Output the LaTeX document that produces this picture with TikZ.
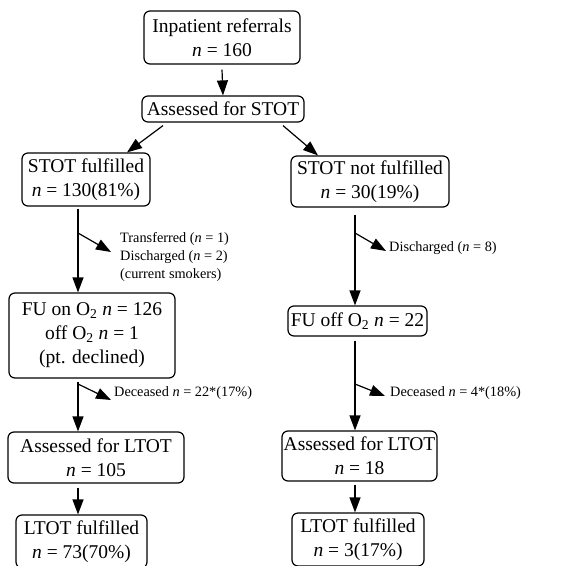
\documentclass[tikz,border=0pt]{standalone}
\usepackage{fontspec}
\setmainfont{Liberation Serif}
\usetikzlibrary{arrows.meta}
\begin{document}
\begin{tikzpicture}[x=1pt,y=-1pt,
  box/.style={draw, rounded corners=6pt, line width=1.2pt, align=center,
    font=\fontsize{19.5}{24}\selectfont, inner sep=0pt},
  arr/.style={-{Triangle[length=15pt,width=11pt]}, line width=1.2pt},
  lab/.style={font=\fontsize{14.3}{18}\selectfont, align=left, anchor=west, inner sep=0pt}]
\useasboundingbox (0,0) rectangle (578,565);
\begin{scope}
\clip (0,0) rectangle (578,565);
\node[box, minimum width=156pt, minimum height=53pt] (top) at (222,37.5) {Inpatient referrals\\\textit{n} = 160};
\node[box, minimum width=162pt, minimum height=26pt] (aS) at (223,109) {Assessed for STOT};
\node[box, minimum width=128pt, minimum height=53pt] (sF) at (86,179.5) {STOT fulfilled\\\textit{n} = 130(81\%)};
\node[box, minimum width=158pt, minimum height=51pt] (sNF) at (370,181.5) {STOT not fulfilled\\\textit{n} = 30(19\%)};
\node[box, minimum width=166pt, minimum height=85pt] (fuL) at (92,335.5) {FU on O\textsubscript{2} \textit{n} = 126\\off O\textsubscript{2} \textit{n} = 1\\(pt. declined)};
\node[box, minimum width=139pt, minimum height=30pt] (fuR) at (357.5,321) {FU off O\textsubscript{2} \textit{n} = 22};
\node[box, minimum width=176pt, minimum height=51pt] (aLL) at (96,457.5) {Assessed for LTOT\\\textit{n} = 105};
\node[box, minimum width=155pt, minimum height=50pt] (aLR) at (359.5,456) {Assessed for LTOT\\\textit{n} = 18};
\node[box, minimum width=131pt, minimum height=53pt] (lFL) at (81.5,541.5) {LTOT fulfilled\\\textit{n} = 73(70\%)};
\node[box, minimum width=132pt, minimum height=53pt] (lFR) at (358,539.5) {LTOT fulfilled\\\textit{n} = 3(17\%)};
\end{scope}

\coordinate (xL) at (78,0);
\coordinate (xR) at (355,0);

\draw[arr] ([yshift=-5pt]top.south) -- (aS.north);
\draw[arr] ([xshift=-60pt,yshift=-3pt]aS.south) -- ([xshift=41pt]sF.north);
\draw[arr] ([xshift=60pt,yshift=-3pt]aS.south) -- ([xshift=-52pt]sNF.north);
\draw[arr] ([yshift=-2pt]sF.south -| xL) -- (fuL.north -| xL);
\draw[arr] ([yshift=-7pt]sNF.south -| xR) -- (fuR.north -| xR);
\draw[arr] ([yshift=-3pt]fuL.south -| xL) -- (aLL.north -| xL);
\draw[arr] ([yshift=-4pt]fuR.south -| xR) -- (aLR.north -| xR);
\draw[arr] ([yshift=-4pt]aLL.south -| xL) -- (lFL.north -| xL);
\draw[arr] ([yshift=-3pt]aLR.south -| xR) -- (lFR.north -| xR);

\coordinate (b1) at (78,233);
\coordinate (b2) at (355,233);
\coordinate (b3) at (78,384);
\coordinate (b4) at (355,384);
\draw[arr] (b1) -- ++(33,19);
\draw[arr] (b2) -- ++(31,18);
\draw[arr] (b3) -- ++(33,16);
\draw[arr] (b4) -- ++(30,12);

\node[lab] (t1) at (120,257) {Transferred (\textit{n} = 1)\\Discharged (\textit{n} = 2)\\(current smokers)};
\node[lab] (t2) at (389,248) {Discharged (\textit{n} = 8)};
\node[lab] (t3) at (114,393) {Deceased \textit{n} = 22*(17\%)};
\node[lab] (t4) at (390,393) {Deceased \textit{n} = 4*(18\%)};
\end{tikzpicture}
\end{document}
